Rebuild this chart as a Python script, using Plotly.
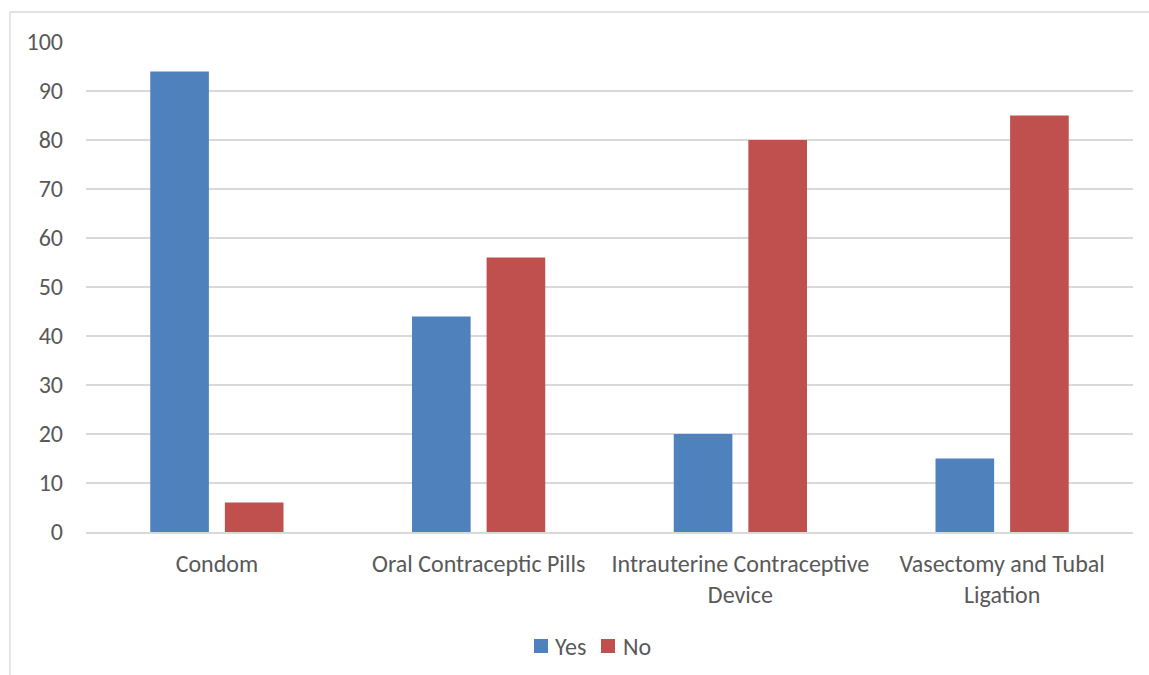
import plotly.graph_objects as go

# Survey responses per contraceptive method (percent)
methods = [
    "Condom",
    "Oral Contraceptic Pills",
    "Intrauterine Contraceptive<br>Device",
    "Vasectomy and Tubal<br>Ligation",
]
yes_values = [94, 44, 20, 15]
no_values = [6, 56, 80, 85]
y_ticks = [0, 10, 20, 30, 40, 50, 60, 70, 80, 90, 100]

BLUE = "#4F81BD"
RED = "#C0504D"
TEXT = "#595959"
GRID = "#D9D9D9"
FONT = "Carlito, Lato, sans-serif"
FSIZE = 24

fig = go.Figure()
fig.add_trace(go.Bar(name="Yes", x=methods, y=yes_values, marker=dict(color=BLUE, line=dict(width=0))))
fig.add_trace(go.Bar(name="No", x=methods, y=no_values, marker=dict(color=RED, line=dict(width=0))))

W, H = 1149, 675
L, R, T, B = 86, 16, 42, 143
pw, ph = W - L - R, H - T - B

def px_to_paper_x(px):
    return (px - L) / pw

def px_to_paper_y(py):
    return (H - B - py) / ph

# Chart-area frame (left and top edges)
fx, fy = px_to_paper_x(10), px_to_paper_y(12)
fig.add_shape(
    type="path",
    xref="paper", yref="paper",
    path=f"M {fx} {px_to_paper_y(700)} L {fx} {fy} L {px_to_paper_x(1200)} {fy}",
    line=dict(color=GRID, width=1.3),
)

# Compact legend below the chart: colour key square followed by series name
legend_row_y = 646
legend_keys = [(534, 553, BLUE, "Yes"), (601, 621, RED, "No")]
for sq_x, txt_x, color, label in legend_keys:
    fig.add_shape(
        type="rect", xref="paper", yref="paper",
        x0=px_to_paper_x(sq_x), x1=px_to_paper_x(sq_x + 14),
        y0=px_to_paper_y(legend_row_y + 7), y1=px_to_paper_y(legend_row_y - 7),
        fillcolor=color, line=dict(width=0),
    )
    fig.add_annotation(
        x=px_to_paper_x(txt_x), y=px_to_paper_y(legend_row_y),
        xref="paper", yref="paper",
        text=label, showarrow=False,
        xanchor="left", yanchor="middle",
        font=dict(family=FONT, size=FSIZE, color=TEXT),
    )

fig.update_layout(
    width=W, height=H,
    margin=dict(l=L, r=R, t=T, b=B, pad=0, autoexpand=False),
    paper_bgcolor="white",
    plot_bgcolor="white",
    barmode="group",
    bargap=0.43,
    bargroupgap=0.214,
    font=dict(family=FONT, size=FSIZE, color=TEXT),
    showlegend=False,
    xaxis=dict(
        showgrid=False,
        showline=True, linecolor=GRID, linewidth=1.5,
        ticks="", ticklabelstandoff=9,
        tickfont=dict(family=FONT, size=FSIZE, color=TEXT),
        automargin=False,
        fixedrange=True,
    ),
    yaxis=dict(
        range=[0, 100],
        tickvals=y_ticks,
        showgrid=True, gridcolor=GRID, gridwidth=1.5,
        zeroline=False,
        showline=False,
        ticks="", ticklabelstandoff=22,
        tickfont=dict(family=FONT, size=FSIZE, color=TEXT),
        automargin=False,
        fixedrange=True,
    ),
)

fig.write_html("out.html")
